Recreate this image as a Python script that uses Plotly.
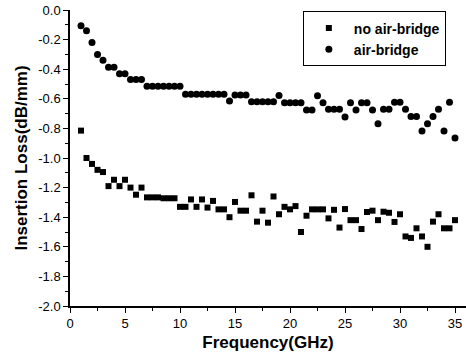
import numpy as np
import plotly.graph_objects as go

freq = [1 + 0.5 * i for i in range(69)]

no_air_bridge = [
    -0.815, -1.00, -1.04, -1.08, -1.095, -1.19, -1.147, -1.19, -1.147, -1.20,
    -1.248, -1.20, -1.266, -1.266, -1.266, -1.272, -1.272, -1.272, -1.33, -1.33,
    -1.28, -1.33, -1.28, -1.335, -1.29, -1.347, -1.347, -1.40, -1.297, -1.356,
    -1.356, -1.252, -1.43, -1.356, -1.437, -1.26, -1.38, -1.33, -1.347, -1.325,
    -1.50, -1.39, -1.347, -1.347, -1.347, -1.408, -1.35, -1.47, -1.345, -1.42,
    -1.42, -1.48, -1.365, -1.356, -1.42, -1.363, -1.37, -1.432, -1.38, -1.53,
    -1.54, -1.475, -1.53, -1.60, -1.43, -1.38, -1.475, -1.475, -1.42,
]

air_bridge = [
    -0.106, -0.14, -0.22, -0.30, -0.34, -0.387, -0.387, -0.43, -0.43, -0.47,
    -0.47, -0.47, -0.516, -0.516, -0.516, -0.516, -0.516, -0.516, -0.516, -0.57,
    -0.57, -0.57, -0.57, -0.57, -0.57, -0.57, -0.57, -0.615, -0.574, -0.574,
    -0.574, -0.62, -0.62, -0.62, -0.62, -0.62, -0.577, -0.626, -0.626, -0.626,
    -0.626, -0.676, -0.676, -0.579, -0.626, -0.671, -0.671, -0.671, -0.723, -0.626,
    -0.676, -0.626, -0.626, -0.676, -0.768, -0.671, -0.671, -0.624, -0.624, -0.671,
    -0.72, -0.72, -0.818, -0.768, -0.72, -0.671, -0.818, -0.624, -0.865,
]

x_ticks = [0, 5, 10, 15, 20, 25, 30, 35]
y_ticks = [0.0, -0.2, -0.4, -0.6, -0.8, -1.0, -1.2, -1.4, -1.6, -1.8, -2.0]
y_tick_text = ["0.0", "-0.2", "-0.4", "-0.6", "-0.8", "-1.0", "-1.2", "-1.4", "-1.6", "-1.8", "-2.0"]

FONT = "Arial, Liberation Sans, sans-serif"

fig = go.Figure()
fig.add_trace(go.Scatter(
    x=freq, y=no_air_bridge, mode="markers", name="no air-bridge",
    marker=dict(symbol="square", size=6, color="black"),
))
fig.add_trace(go.Scatter(
    x=freq, y=air_bridge, mode="markers", name="air-bridge",
    marker=dict(symbol="circle", size=7, color="black"),
))

fig.update_layout(
    width=466, height=355,
    margin=dict(l=70, r=0, t=10, b=49),
    paper_bgcolor="white", plot_bgcolor="white",
    font=dict(family=FONT, color="black", size=13),
    showlegend=True,
    legend=dict(
        x=0.588, y=0.995, xanchor="left", yanchor="top",
        bordercolor="black", borderwidth=1, bgcolor="white",
        font=dict(family=FONT, size=14, color="black", weight="bold"),
        itemwidth=40, tracegroupgap=0,
    ),
)
fig.update_xaxes(
    range=[0, 36], tickmode="array", tickvals=x_ticks,
    showline=True, linecolor="black", linewidth=1.5,
    ticks="outside", ticklen=5, tickcolor="black", tickwidth=1,
    minor=dict(dtick=2.5, ticks="outside", ticklen=3, tickcolor="black"),
    showgrid=False, zeroline=False,
    tickfont=dict(family=FONT, size=13),
    title=dict(text="Frequency(GHz)", font=dict(family=FONT, size=17, weight="bold"), standoff=6),
)
fig.update_yaxes(
    range=[-2.0, 0.0], tickmode="array", tickvals=y_ticks, ticktext=y_tick_text,
    showline=True, linecolor="black", linewidth=1.5,
    ticks="outside", ticklen=5, tickcolor="black", tickwidth=1,
    minor=dict(dtick=0.1, ticks="outside", ticklen=3, tickcolor="black"),
    showgrid=False, zeroline=False,
    tickfont=dict(family=FONT, size=13),
    title=dict(text="Insertion Loss(dB/mm)", font=dict(family=FONT, size=17, weight="bold"), standoff=6),
)

fig.write_html("out.html")
